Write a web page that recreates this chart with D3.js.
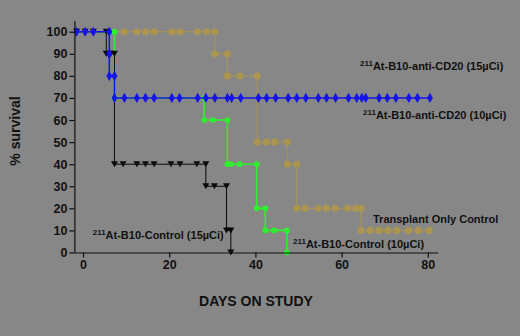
<!DOCTYPE html>
<html>
<head>
<meta charset="utf-8">
<script src="https://cdn.jsdelivr.net/npm/d3@7"></script>
<style>
  html, body { margin: 0; padding: 0; background: #878787; }
  svg { display: block; font-family: "Liberation Sans", Arial, sans-serif; }
</style>
</head>
<body>
<div id="chart"></div>
<script>
// each step: [day, survival after the drop]
var tranStart = -1.5, tranEnd = 80.3;
var tranSteps = [[30.6, 90], [33.5, 80], [40.4, 50], [47.4, 40], [49.6, 20], [64.5, 10]];
var tranCensor = [9.6, 12.5, 14.5, 16.5, 20.6, 22.5, 26.6, 28.7, 36.4, 42.6, 44.5,
  51.5, 54.6, 56.5, 58.5, 61.4, 63.3, 66.6, 68.7, 70.7, 72.8, 75.5, 77.8, 80.3];

var greenStart = -1.5, greenEnd = 47.3;
var greenSteps = [[7.3, 70], [28.1, 60], [33.5, 40], [40.3, 20], [42.3, 10], [47.3, 0]];
var greenCensor = [-1.5, 30.2, 34.3, 36.3, 44.4];

var blackStart = -1.5, blackEnd = 34.3;
var blackSteps = [[5.4, 90], [7.3, 40], [28.5, 30], [33.3, 10], [34.3, 0]];
var blackCensor = [-1.5, 0.5, 2.4, 6.4, 9.3, 12.5, 14.5, 16.5, 20.4, 22.5, 26.4, 30.5];

var blueStart = -1.5, blueEnd = 80.5;
var blueSteps = [[6.1, 90], [6.1, 80], [7.3, 70]];
var blueCensor = [-1.5, 0.5, 2.4, 9.6, 12.5, 14.5, 16.5, 20.6, 22.4, 26.6, 28.5, 30.6,
  33.5, 34.5, 36.6, 40.7, 42.6, 44.7, 47.6, 49.6, 51.7, 54.6, 56.5, 58.6, 61.6, 63.5,
  64.7, 65.6, 68.7, 70.6, 72.6, 75.6, 77.6, 80.5];

var xTicks = [0, 20, 40, 60, 80];
var yTicks = [0, 10, 20, 30, 40, 50, 60, 70, 80, 90, 100];

var width = 520, height = 336;
var svg = d3.select("#chart").append("svg")
  .attr("width", width).attr("height", height);

var x = d3.scaleLinear().domain([-2, 82.3]).range([74.4, 437.7]);
var y = d3.scaleLinear().domain([0, 105]).range([252.5, 20.7]);

// survival value at a given day
function survAt(steps, day) {
  var s = 100;
  steps.forEach(function (d) { if (d[0] <= day) s = d[1]; });
  return s;
}

function stepPath(start, end, steps) {
  var pts = [[start, 100]];
  var prev = 100;
  steps.forEach(function (d) {
    pts.push([d[0], prev]);
    pts.push([d[0], d[1]]);
    prev = d[1];
  });
  pts.push([end, prev]);
  return pts;
}

function markerPts(steps, censor) {
  var pts = [];
  var prev = 100;
  steps.forEach(function (d) {
    pts.push([d[0], prev]);
    pts.push([d[0], d[1]]);
    prev = d[1];
  });
  censor.forEach(function (c) { pts.push([c, survAt(steps, c)]); });
  return pts;
}

var line = d3.line().x((d) => x(d[0])).y((d) => y(d[1]));

var series = [
  { start: tranStart, end: tranEnd, steps: tranSteps, censor: tranCensor, color: "#ab9550", lw: 1, shape: d3.symbolCircle, size: 40 },
  { start: greenStart, end: greenEnd, steps: greenSteps, censor: greenCensor, color: "#2ef02e", lw: 1.6, shape: d3.symbolCircle, size: 26 },
  { start: blackStart, end: blackEnd, steps: blackSteps, censor: blackCensor, color: "#0a0a0a", lw: 1, shape: "tri", size: 0 },
  { start: blueStart, end: blueEnd, steps: blueSteps, censor: blueCensor, color: "#1414e6", lw: 1.5, shape: d3.symbolDiamond, size: 30 }
];

series.forEach(function (s) {
  var g = svg.append("g");
  g.append("path")
    .attr("d", line(stepPath(s.start, s.end, s.steps)))
    .attr("fill", "none")
    .attr("stroke", s.color)
    .attr("stroke-width", s.lw);
  var m = g.selectAll(".mark")
    .data(markerPts(s.steps, s.censor))
    .enter();
  if (s.shape === "tri") {
    m.append("path")
      .attr("d", (d) => "M" + (x(d[0]) - 3.5) + "," + (y(d[1]) - 3) + "h7l-3.5,6z")
      .attr("fill", s.color);
  } else {
    m.append("path")
      .attr("d", d3.symbol().type(s.shape).size(s.size))
      .attr("transform", (d) => "translate(" + x(d[0]) + "," + y(d[1]) + ")")
      .attr("fill", s.color);
  }
});

// axes
var yAxis = svg.append("g")
  .attr("transform", "translate(" + x(-2) + ",0)")
  .call(d3.axisLeft(y).tickValues(yTicks).tickSize(5).tickSizeOuter(0).tickPadding(2));
var xAxis = svg.append("g")
  .attr("transform", "translate(0," + y(0) + ")")
  .call(d3.axisBottom(x).tickValues(xTicks).tickSize(5).tickSizeOuter(0).tickPadding(3));

[yAxis, xAxis].forEach(function (a) {
  a.selectAll("path, line").attr("stroke", "#111").attr("stroke-width", 1.2);
  a.selectAll("text")
    .attr("fill", "#111")
    .style("font-size", "12.5px")
    .style("font-weight", "bold");
});

// axis titles
svg.append("text")
  .attr("transform", "rotate(-90)")
  .attr("x", -131)
  .attr("y", 20)
  .attr("text-anchor", "middle")
  .attr("fill", "#111")
  .style("font-size", "14px")
  .style("font-weight", "bold")
  .text("% survival");

svg.append("text")
  .attr("x", 256)
  .attr("y", 306)
  .attr("text-anchor", "middle")
  .attr("fill", "#111")
  .style("font-size", "14px")
  .style("font-weight", "bold")
  .text("DAYS ON STUDY");

// curve labels
var labels = [
  { sup: "211", txt: "At-B10-anti-CD20 (15\u00b5Ci)", x: 360, y: 70 },
  { sup: "211", txt: "At-B10-anti-CD20 (10\u00b5Ci)", x: 363, y: 119 },
  { sup: "", txt: "Transplant Only Control", x: 373, y: 223 },
  { sup: "211", txt: "At-B10-Control (10\u00b5Ci)", x: 293, y: 248 },
  { sup: "211", txt: "At-B10-Control (15\u00b5Ci)", x: 92.7, y: 239 }
];

labels.forEach(function (l) {
  var t = svg.append("text")
    .attr("x", l.x)
    .attr("y", l.y)
    .attr("fill", "#111")
    .style("font-size", "11px")
    .style("font-weight", "bold");
  if (l.sup) {
    t.append("tspan").attr("dy", -4).style("font-size", "8px").text(l.sup);
    t.append("tspan").attr("dy", 4).text(l.txt);
  } else {
    t.text(l.txt);
  }
});
</script>
</body>
</html>
